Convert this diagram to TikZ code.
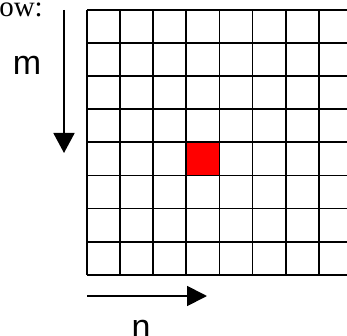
\documentclass[tikz,border=0pt]{standalone}
\usepackage{fontspec}
\setmainfont{Liberation Serif}
\newfontfamily\arialfont{Liberation Sans}
\usetikzlibrary{arrows.meta,calc}

\begin{document}
\begin{tikzpicture}[x=1pt,y=-1pt]
\useasboundingbox (0,0) rectangle (347,336);
\clip (0,0) rectangle (347,336);
\coordinate (G) at (87,10); \coordinate (mA) at (64,10); \coordinate (mB) at (64,153); \coordinate (nA) at (87,296); \coordinate (nB) at (207,296);
\fill[red] ($(G)+(3*33.1,4*33.1)$) rectangle ++(33.1,33.1);
\foreach \j in {0,...,8}{\draw[line width=1.8pt] ($(G)+(0,33.1*\j)$) -- ++(9*33.1,0);}
\foreach \i in {0,...,9}{\draw[line width=1.8pt] ($(G)+(33.1*\i,0)$) -- ++(0,8*33.1);}
\draw[line width=1.8pt,-{Triangle[length=20pt,width=21pt]}] (mA)--(mB);
\draw[line width=1.8pt,-{Triangle[length=20pt,width=20pt]}] (nA)--(nB);
\node[anchor=base,inner sep=0pt,font=\arialfont\fontsize{34}{40}\selectfont] (m) at (27,75) {m};
\node[anchor=base,inner sep=0pt,font=\arialfont\fontsize{34}{40}\selectfont] (n) at (141,338) {n};
\node[anchor=base east,inner sep=0pt,font=\fontsize{29}{34}\selectfont] (ow) at (43,16.7) {ow:};
\end{tikzpicture}
\end{document}
